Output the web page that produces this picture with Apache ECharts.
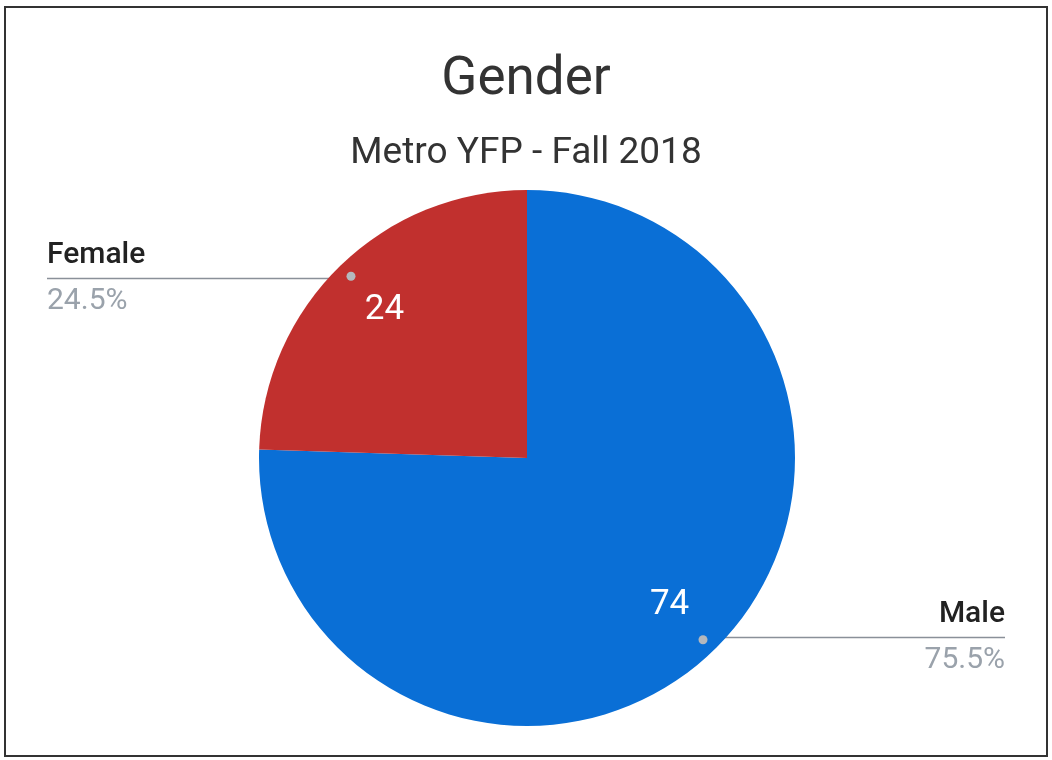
<!DOCTYPE html>
<html>
<head>
<meta charset="utf-8">
<script src="https://cdn.jsdelivr.net/npm/echarts@6/dist/echarts.min.js"></script>
<style>
  html, body { margin: 0; padding: 0; background: #fff; }
  #chart { width: 1052px; height: 760px; }
  #frame {
    position: absolute; left: 4px; top: 6px; width: 1040px; height: 747px;
    border: 2px solid #333; pointer-events: none;
  }
</style>
</head>
<body>
<div id="chart"></div>
<div id="frame"></div>
<script>
const genders = ['Male', 'Female']
const counts = [74, 24]

const chart = echarts.init(document.getElementById('chart'))

const pieData = genders.map((name, i) => ({ name, value: counts[i] }))
const center = [527, 458]

const options = {
  color: ['#0a6fd6', '#c1302e'],
  textStyle: { fontFamily: 'Roboto' },
  title: [
    {
      text: 'Gender',
      left: 'center',
      top: 45,
      textStyle: { fontSize: 53, fontWeight: 'normal', color: '#333', lineHeight: 62 }
    },
    {
      text: 'Metro YFP - Fall 2018',
      left: 'center',
      top: 127,
      textStyle: { fontSize: 37, fontWeight: 'normal', color: '#333', lineHeight: 44 }
    }
  ],
  series: [
    {
      // the slices
      type: 'pie',
      center,
      radius: 268,
      startAngle: 90,
      silent: true,
      label: { show: false },
      labelLine: { show: false },
      data: pieData
    },
    {
      // value labels inside the slices
      type: 'pie',
      center,
      radius: [136, 268],
      startAngle: 90,
      silent: true,
      itemStyle: { color: 'transparent' },
      label: {
        show: true,
        position: 'inside',
        formatter: '{c}',
        color: '#fff',
        fontSize: 35
      },
      labelLine: { show: false },
      data: pieData
    },
    {
      // name + percent labels outside
      type: 'pie',
      center,
      radius: 250,
      startAngle: 90,
      silent: true,
      percentPrecision: 1,
      itemStyle: { color: 'transparent' },
      label: {
        show: true,
        position: 'outside',
        alignTo: 'edge',
        edgeDistance: 47,
        formatter: '{n|{b}}\n{p|{d}%}',
        rich: {
          n: { fontSize: 30, fontWeight: 500, color: '#222', lineHeight: 46 },
          p: { fontSize: 30, color: '#9aa2ab', lineHeight: 46 }
        }
      },
      labelLine: {
        show: true,
        length: 0,
        length2: 10,
        lineStyle: { color: '#8a9099', width: 1.5 }
      },
      labelLayout: function (params) {
        const isLeft = params.labelRect.x < chart.getWidth() / 2
        const points = params.labelLinePoints
        points[2][0] = isLeft ? params.labelRect.x : params.labelRect.x + params.labelRect.width
        return { labelLinePoints: points }
      },
      data: pieData
    },
    {
      // dots where the label lines start
      type: 'pie',
      center,
      radius: [248, 252],
      startAngle: 90,
      silent: true,
      itemStyle: { color: 'transparent' },
      label: {
        show: true,
        position: 'inside',
        formatter: '{dot|}',
        rich: {
          dot: { width: 9, height: 9, borderRadius: 5, backgroundColor: '#b4b8bd' }
        }
      },
      labelLine: { show: false },
      data: pieData
    }
  ]
}

chart.setOption(options)
</script>
</body>
</html>
